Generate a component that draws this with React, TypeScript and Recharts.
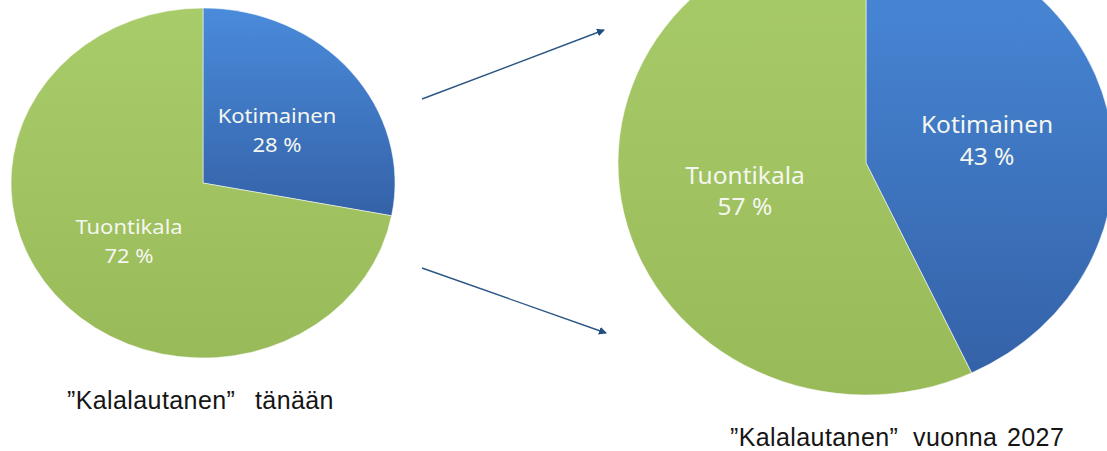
import React from 'react';
import { PieChart, Pie, Cell } from 'recharts';

const categories = ['Kotimainen', 'Tuontikala'];
const todayShares = [28, 72];
const futureShares = [43, 57];
const captionWords = [
  ['”Kalalautanen”', 'tänään'],
  ['”Kalalautanen”', 'vuonna', '2027'],
];

const todayData = categories.map((name, i) => ({ name, value: todayShares[i] }));
const futureData = categories.map((name, i) => ({ name, value: futureShares[i] }));

const FILLS = ['url(#gradBlue)', 'url(#gradGreen)'];
const RADIAN = Math.PI / 180;
const PAD = 120; // extra room above so the scaled pie is not cut flat

// x of each caption word, baseline y
const captionLayout = [
  { y: 409, xs: [67, 255] },
  { y: 446, xs: [730, 913, 1007] },
];

const makeLabel = (fontSize: number, gap: number) => (props: any) => {
  const { cx, cy, midAngle, outerRadius, name, value } = props;
  const r = outerRadius * 0.5;
  const x = cx + r * Math.cos(-midAngle * RADIAN);
  const y = cy + r * Math.sin(-midAngle * RADIAN);
  return (
    <text x={x} y={y} fill="#f4f7f0" textAnchor="middle" fontFamily="'Noto Sans', sans-serif" fontSize={fontSize}>
      <tspan x={x} dy={-5}>{name}</tspan>
      <tspan x={x} dy={gap}>{`${value} %`}</tspan>
    </text>
  );
};

function Gradients() {
  return (
    <defs>
      <linearGradient id="gradBlue" x1="0" y1="0" x2="0" y2="1">
        <stop offset="0%" stopColor="#4a8bdb" />
        <stop offset="100%" stopColor="#3462a8" />
      </linearGradient>
      <linearGradient id="gradGreen" x1="0" y1="0" x2="0" y2="1">
        <stop offset="0%" stopColor="#a9cc6b" />
        <stop offset="100%" stopColor="#99ba58" />
      </linearGradient>
    </defs>
  );
}

export default function App() {
  return (
    <div style={{ position: 'fixed', left: 0, top: 0, width: 1107, height: 451, overflow: 'hidden', background: '#fff' }}>
      {/* today */}
      <div style={{ position: 'absolute', left: 0, top: -PAD, width: 420, height: 451 + PAD, transform: `scaleY(${175 / 192})`, transformOrigin: `203px ${183 + PAD}px` }}>
        <PieChart width={420} height={451 + PAD} margin={{ top: 0, right: 0, bottom: 0, left: 0 }}>
          <Gradients />
          <Pie
            data={todayData}
            dataKey="value"
            nameKey="name"
            cx={203}
            cy={183 + PAD}
            outerRadius={192}
            startAngle={90}
            endAngle={-270}
            stroke="rgba(255,255,255,0.55)"
            strokeWidth={1}
            labelLine={false}
            label={makeLabel(22, 32)}
            isAnimationActive={false}
          >
            {todayData.map((d, i) => <Cell key={d.name} fill={FILLS[i]} />)}
          </Pie>
        </PieChart>
      </div>

      {/* 2027 */}
      <div style={{ position: 'absolute', left: 600, top: -PAD, width: 507, height: 451 + PAD, transform: `scaleY(${232 / 248})`, transformOrigin: `266px ${163 + PAD}px` }}>
        <PieChart width={507} height={451 + PAD} margin={{ top: 0, right: 0, bottom: 0, left: 0 }}>
          <Gradients />
          <Pie
            data={futureData}
            dataKey="value"
            nameKey="name"
            cx={266}
            cy={163 + PAD}
            outerRadius={248}
            startAngle={90}
            endAngle={-270}
            stroke="rgba(255,255,255,0.55)"
            strokeWidth={1}
            labelLine={false}
            label={makeLabel(24.5, 34)}
            isAnimationActive={false}
          >
            {futureData.map((d, i) => <Cell key={d.name} fill={FILLS[i]} />)}
          </Pie>
        </PieChart>
      </div>

      <svg width={1107} height={451} style={{ position: 'absolute', left: 0, top: 0, pointerEvents: 'none' }}>
        <defs>
          <marker id="arrowHead" markerWidth="8" markerHeight="8" refX="7" refY="4" orient="auto" markerUnits="userSpaceOnUse">
            <path d="M0,0 L8,4 L0,8 z" fill="#1f4f80" />
          </marker>
        </defs>
        <line x1={422} y1={99} x2={604} y2={30} stroke="#2b5684" strokeWidth={1.4} markerEnd="url(#arrowHead)" />
        <line x1={422} y1={268} x2={606} y2={333} stroke="#2b5684" strokeWidth={1.4} markerEnd="url(#arrowHead)" />
        {captionWords.map((words, ci) => (
          <text key={ci} y={captionLayout[ci].y} fontFamily="'Liberation Sans', Arial, sans-serif" fontSize={25} letterSpacing={0.4} fill="#151515">
            {words.map((w, wi) => (
              <tspan key={wi} x={captionLayout[ci].xs[wi]}>{w}</tspan>
            ))}
          </text>
        ))}
      </svg>
    </div>
  );
}
